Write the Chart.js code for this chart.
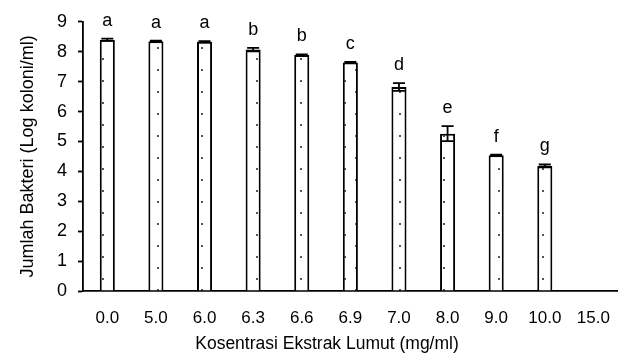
<!DOCTYPE html>
<html>
<head>
<meta charset="utf-8">
<script src="https://cdn.jsdelivr.net/npm/chart.js@4.4.1/dist/chart.umd.min.js"></script>
<style>
  html, body { margin: 0; padding: 0; background: #fff; }
  #wrap { width: 621px; height: 353px; }
</style>
</head>
<body>
<div id="wrap"><canvas id="grafico"></canvas></div>
<script>
// dados
const categorias = ['0.0', '5.0', '6.0', '6.3', '6.6', '6.9', '7.0', '8.0', '9.0', '10.0', '15.0'];
const valores = [8.40, 8.35, 8.33, 8.07, 7.89, 7.64, 6.82, 5.26, 4.54, 4.18, 0];
const erros = [0.04, 0.02, 0.02, 0.06, 0.02, 0.02, 0.13, 0.25, 0.02, 0.05, 0];
const letras = ['a', 'a', 'a', 'b', 'b', 'c', 'd', 'e', 'f', 'g', ''];
const ticksY = [0, 1, 2, 3, 4, 5, 6, 7, 8, 9];

const fonte = "'Liberation Sans', Arial, sans-serif";

// padrão de pontos dentro das barras
function criarPadrao() {
    const c = document.createElement('canvas');
    c.width = 22;
    c.height = 22;
    const g = c.getContext('2d');
    g.fillStyle = '#fff';
    g.fillRect(0, 0, 22, 22);
    g.fillStyle = '#555';
    g.fillRect(3, 3, 2, 2);
    g.fillRect(14, 14, 2, 2);
    return g.createPattern(c, 'repeat');
}

// barras de erro + letras por cima
const pluginErros = {
    id: 'barrasErro',
    afterDatasetsDraw(chart) {
        const ctx = chart.ctx;
        const meta = chart.getDatasetMeta(0);
        const y = chart.scales.y;
        ctx.save();
        ctx.strokeStyle = '#000';
        ctx.lineWidth = 1.8;
        meta.data.forEach(function (barra, i) {
            const x = barra.x;
            const topo = y.getPixelForValue(valores[i] + erros[i]);
            const base = y.getPixelForValue(valores[i] - erros[i]);
            if (erros[i] > 0) {
                ctx.beginPath();
                ctx.moveTo(x, topo);
                ctx.lineTo(x, base);
                ctx.moveTo(x - 6, topo);
                ctx.lineTo(x + 6, topo);
                ctx.moveTo(x - 6, base);
                ctx.lineTo(x + 6, base);
                ctx.stroke();
            }
            if (letras[i]) {
                ctx.fillStyle = '#000';
                ctx.font = '18px ' + fonte;
                ctx.textAlign = 'center';
                ctx.textBaseline = 'alphabetic';
                ctx.fillText(letras[i], x, topo - 13);
            }
        });
        // título do eixo X
        ctx.fillStyle = '#000';
        ctx.font = '17.5px ' + fonte;
        ctx.textAlign = 'center';
        ctx.textBaseline = 'alphabetic';
        ctx.fillText('Kosentrasi Ekstrak Lumut (mg/ml)', 327, 349);
        ctx.restore();
    }
};

document.addEventListener("DOMContentLoaded", function () {
    const ctxGrafico = document.getElementById('grafico');
    new Chart(ctxGrafico.getContext('2d'), {
        type: 'bar',
        data: {
            labels: categorias,
            datasets: [{
                label: 'Jumlah Bakteri',
                data: valores,
                backgroundColor: criarPadrao(),
                borderColor: '#000',
                borderWidth: 2,
                barPercentage: 0.31,
                categoryPercentage: 1
            }]
        },
        options: {
            responsive: true,
            maintainAspectRatio: false,
            animation: false,
            layout: { padding: { top: 19, right: 1, left: 17, bottom: 0 } },
            plugins: {
                legend: { display: false },
                tooltip: { enabled: false }
            },
            scales: {
                x: {
                    grid: { display: false, drawTicks: true, tickLength: 6, tickColor: '#000', tickWidth: 1.8 },
                    border: { color: '#000', width: 1.8 },
                    ticks: { color: '#000', font: { family: fonte, size: 17 }, padding: 11, maxRotation: 0 },
                    afterFit: function (scale) { scale.height = 62; }
                },
                y: {
                    min: 0,
                    max: 9,
                    afterBuildTicks: function (scale) {
                        scale.ticks = ticksY.map(function (v) { return { value: v }; });
                    },
                    grid: { display: true, drawOnChartArea: false, tickLength: 5, tickColor: '#000', tickWidth: 1.8 },
                    border: { color: '#000', width: 1.8 },
                    ticks: { color: '#000', font: { family: fonte, size: 18 }, padding: 11 },
                    title: {
                        display: true,
                        text: 'Jumlah Bakteri (Log koloni/ml)',
                        color: '#000',
                        font: { family: fonte, size: 18 },
                        padding: { top: 0, bottom: 0 }
                    },
                    afterFit: function (scale) { scale.width = 66; }
                }
            }
        },
        plugins: [pluginErros]
    });
});
</script>
</body>
</html>
